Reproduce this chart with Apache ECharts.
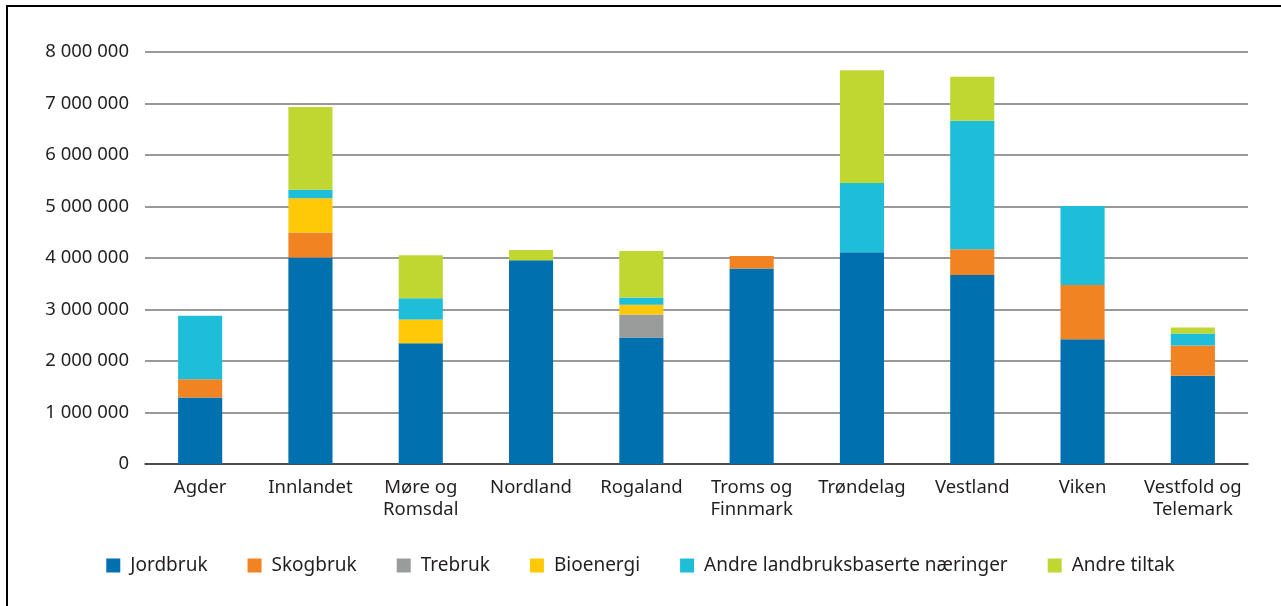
<!DOCTYPE html>
<html>
<head>
<meta charset="utf-8">
<script src="https://cdn.jsdelivr.net/npm/echarts@6/dist/echarts.min.js"></script>
<style>
  html, body { margin: 0; padding: 0; background: #fff; }
  #frame {
    position: absolute; left: 6px; top: 5px; width: 1400px; height: 700px;
    border-left: 2px solid #000; border-top: 2px solid #000;
  }
  #chart { position: absolute; left: 0; top: 0; width: 1281px; height: 606px; }
</style>
</head>
<body>
<div id="frame"></div>
<div id="chart"></div>
<script>
// Fylker
const regions = ['Agder', 'Innlandet', 'Møre og\nRomsdal', 'Nordland', 'Rogaland',
  'Troms og\nFinnmark', 'Trøndelag', 'Vestland', 'Viken', 'Vestfold og\nTelemark']

// Beløp per tiltak (kr)
const jordbruk = [1293000, 4008000, 2346000, 3956000, 2456000, 3794000, 4111000, 3672000, 2424000, 1713000]
const skogbruk = [355000, 485000, 0, 0, 0, 246000, 0, 497000, 1054000, 588000]
const trebruk = [0, 0, 0, 0, 446000, 0, 0, 0, 0, 0]
const bioenergi = [0, 665000, 459000, 0, 188000, 0, 0, 0, 0, 0]
const andreLandbruk = [1229000, 168000, 414000, 0, 142000, 0, 1345000, 2496000, 1532000, 233000]
const andreTiltak = [0, 1604000, 834000, 200000, 905000, 0, 2191000, 853000, 0, 116000]

const yTicks = { min: 0, max: 8000000, interval: 1000000 }

const seriesDefs = [
  { name: 'Jordbruk', data: jordbruk, color: '#0070af' },
  { name: 'Skogbruk', data: skogbruk, color: '#f28322' },
  { name: 'Trebruk', data: trebruk, color: '#9a9c9c' },
  { name: 'Bioenergi', data: bioenergi, color: '#ffc907' },
  { name: 'Andre landbruksbaserte næringer', data: andreLandbruk, color: '#1ebdd8' },
  { name: 'Andre tiltak', data: andreTiltak, color: '#bfd730' }
]

const textColor = '#231f20'
const fontFamily = '"Noto Sans", "Open Sans", sans-serif'
const fontSize = 18.5

const chart = echarts.init(document.getElementById('chart'))

chart.setOption({
  animation: false,
  textStyle: { fontFamily: fontFamily, color: textColor },
  grid: { left: 145, right: 33, top: 52, bottom: 142 },
  legend: {
    left: 'center',
    top: 551,
    itemWidth: 14,
    itemHeight: 14,
    itemGap: 40,
    icon: 'rect',
    textStyle: { fontSize: 19, color: textColor, fontFamily: fontFamily, padding: [0, 0, 0, 5] },
    data: seriesDefs.map(s => s.name)
  },
  xAxis: {
    type: 'category',
    data: regions,
    axisLine: { lineStyle: { color: '#333', width: 1.5 } },
    axisTick: { show: false },
    axisLabel: {
      fontSize: fontSize,
      color: textColor,
      margin: 13,
      lineHeight: 22,
      interval: 0
    }
  },
  yAxis: {
    type: 'value',
    min: yTicks.min,
    max: yTicks.max,
    interval: yTicks.interval,
    axisLine: { show: false },
    axisTick: { show: false },
    axisLabel: {
      fontSize: fontSize,
      color: textColor,
      margin: 16,
      formatter: v => String(v).replace(/\B(?=(\d{3})+(?!\d))/g, ' ')
    },
    splitLine: { lineStyle: { color: '#777', width: 1.5 } }
  },
  series: seriesDefs.map(s => ({
    name: s.name,
    type: 'bar',
    stack: 'total',
    barWidth: '40%',
    data: s.data,
    itemStyle: { color: s.color }
  }))
})
</script>
</body>
</html>
